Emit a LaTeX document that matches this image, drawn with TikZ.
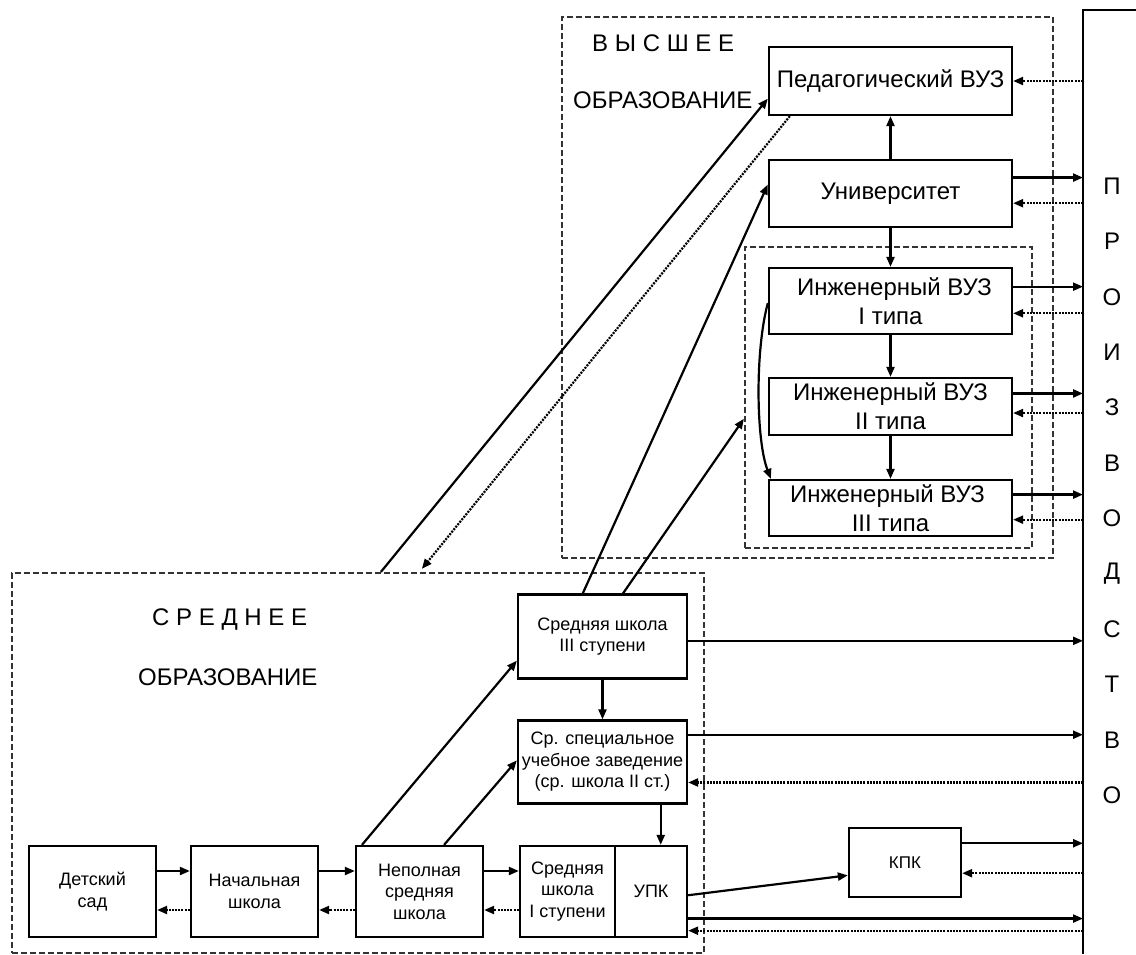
\documentclass[tikz,border=0pt]{standalone}
\usepackage{fontspec}
\setmainfont{Liberation Sans}
\usetikzlibrary{arrows.meta,calc}

\begin{document}
\begin{tikzpicture}[x=1pt,y=-1pt,
  box/.style={draw, line width=2.3pt, inner sep=0pt, align=center},
  big/.style={font=\fontsize{24}{29}\selectfont},
  small/.style={font=\fontsize{18}{21.5}\selectfont},
  heading/.style={inner sep=0pt, anchor=west, font=\fontsize{24}{28}\selectfont},
  letter/.style={inner sep=0pt, font=\fontsize{24}{28}\selectfont},
  link/.style={line width=2.2pt, -{Triangle[length=10pt,width=8pt]}},
  back/.style={line width=2.2pt, dash pattern=on 2pt off 1.2pt, -{Triangle[length=10pt,width=8pt]}},
  frame/.style={draw=black!80, line width=2.2pt, dash pattern=on 6pt off 3pt, inner sep=0pt},
]
\useasboundingbox (0,0) rectangle (1136,954);

% dashed groups
\node[frame, minimum width=491, minimum height=541] (high) at (807.5,287.5) {};
\node[frame, minimum width=287, minimum height=301] (engframe) at (888.5,397.5) {};
\node[frame, minimum width=692, minimum height=380] (mid) at (358,763) {};

% production column
\coordinate (prod) at (1083,10);
\draw[line width=2.3pt] (1136,10) -- (prod) -- (1083,954);
\foreach \ch [count=\i from 0] in {П,Р,О,И,З,В,О,Д,С,Т,В,О}
  \node[letter] (p\i) at (1112,186+55.4*\i) {\ch};

% headings
\node[heading] (hA) at (592,43) {В Ы С Ш Е Е};
\node[heading] (hB) at (573,100) {ОБРАЗОВАНИЕ};
\node[heading] (mA) at (152,620) {С Р Е Д Н Е Е};
\node[heading] (mB) at (138,677) {ОБРАЗОВАНИЕ};

% higher education
\node[box, big, minimum width=243, minimum height=68] (ped)  at (890.5,81)  {Педагогический ВУЗ};
\node[box, big, minimum width=243, minimum height=67] (univ) at (890.5,193.5) {Университет};
\node[box, big, minimum width=243, minimum height=66] (eng1) at (890.5,301) {\hspace*{8pt}Инженерный ВУЗ\\I типа};
\node[box, big, minimum width=243, minimum height=57] (eng2) at (890.5,406.5) {Инженерный ВУЗ\\II типа};
\node[box, big, minimum width=243, minimum height=56] (eng3) at (890.5,508) {Инженерный ВУЗ\hspace*{6pt}\\III типа};

% secondary education
\node[box, small, minimum width=127, minimum height=91] (kid)    at (92.5,891.5)  {Детский\\сад};
\node[box, small, minimum width=127, minimum height=91] (prim)   at (254.5,891.5) {Начальная\\школа};
\node[box, small, minimum width=127, minimum height=91] (incomp) at (419.5,891.5) {Неполная\\средняя\\школа};
\node[box, small, minimum width=95,  minimum height=91] (sec1)   at (567.5,891.5) {Средняя\\школа\\I ступени};
\node[box, small, minimum width=72,  minimum height=91] (upk)    at (651,891.5)   {УПК};
\node[box, small, minimum width=169, minimum height=84] (sec3)   at (602.5,636.5) {Средняя школа\\III ступени};
\node[box, small, minimum width=169, minimum height=83] (spec)   at (602.5,762)   {Ср. специальное\\учебное заведение\\(ср. школа II ст.)};
\node[box, font=\fontsize{17}{20}\selectfont, minimum width=112, minimum height=69] (kpk) at (905,862.5) {КПК};

% links to and from production
\draw[back] (ped.east -| prod) -- (ped.east);
\foreach \n/\a/\b in {univ/0.27/0.64, eng1/0.29/0.68, eng2/0.28/0.61, eng3/0.27/0.70,
                      spec/0.18/0.74, kpk/0.23/0.65, upk/0.79/0.92} {
  \coordinate (\n-out) at ($(\n.north east)!\a!(\n.south east)$);
  \coordinate (\n-in)  at ($(\n.north east)!\b!(\n.south east)$);
  \draw[link] (\n-out) -- (\n-out -| prod);
  \draw[back] (\n-in -| prod) -- (\n-in);
}
\coordinate (sec3-out) at ($(sec3.north east)!0.55!(sec3.south east)$);
\draw[link] (sec3-out) -- (sec3-out -| prod);

% within higher education
\draw[link] (univ.north) -- (ped.south);
\draw[link] (univ.south) -- (univ.south |- eng1.north);
\draw[link] (eng1.south) -- (eng2.north);
\draw[link] (eng2.south) -- (eng3.north);
\coordinate (e1w) at ($(eng1.north west)!0.53!(eng1.south west)$);
\coordinate (e3n) at ($(eng3.north west)+(3,0)$);
\draw[link] (e1w) .. controls (755,350) and (756,440) .. (e3n);

% between levels
\coordinate (midA) at ($(mid.north west)!0.533!(mid.north east)$);
\coordinate (midB) at ($(mid.north west)!0.592!(mid.north east)$);
\coordinate (pedA) at ($(ped.north west)!0.75!(ped.south west)$);
\coordinate (pedB) at ($(ped.south west)+(22,0)$);
\draw[link] (midA) -- (pedA);
\draw[back] (pedB) -- ($(midB)+(0,-3)$);
\coordinate (s3a) at ($(sec3.north west)!0.385!(sec3.north east)$);
\coordinate (s3b) at ($(sec3.north west)!0.62!(sec3.north east)$);
\coordinate (univA) at ($(univ.north west)!0.37!(univ.south west)$);
\coordinate (engA) at ($(engframe.north west)!0.57!(engframe.south west)$);
\draw[link] (s3a) -- (univA);
\draw[link] (s3b) -- (engA);

% within secondary education
\coordinate (rowS) at (0,871);
\coordinate (rowD) at (0,910);
\foreach \a/\b in {kid/prim, prim/incomp, incomp/sec1} {
  \draw[link] (\a.east |- rowS) -- (\b.west |- rowS);
  \draw[back] (\b.west |- rowD) -- (\a.east |- rowD);
}
\coordinate (incA) at ($(incomp.north west)!0.055!(incomp.north east)$);
\coordinate (incB) at ($(incomp.north west)!0.69!(incomp.north east)$);
\draw[link] (incA) -- ($(sec3.north west)!0.78!(sec3.south west)$);
\draw[link] (incB) -- ($(spec.north west)!0.48!(spec.south west)$);
\draw[link] (sec3.south) -- (spec.north);
\coordinate (specB) at ($(spec.south west)!0.84!(spec.south east)$);
\draw[link] (specB) -- (specB |- upk.north);
\draw[link] ($(upk.north east)!0.54!(upk.south east)$) -- ($(kpk.north west)!0.68!(kpk.south west)$);
\end{tikzpicture}
\end{document}
